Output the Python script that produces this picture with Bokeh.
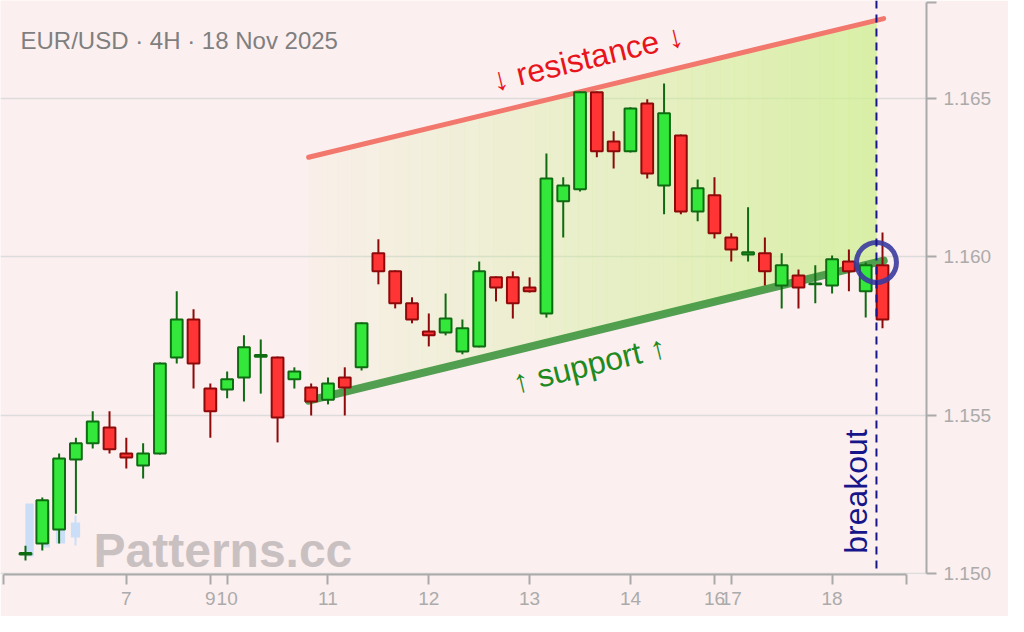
import numpy as np
from bokeh.core.properties import value
from bokeh.embed import file_html
from bokeh.models import ColumnDataSource, CustomJSTickFormatter, FixedTicker, Label, Range1d, Span
from bokeh.plotting import figure
from bokeh.resources import INLINE

FONT = "Liberation Sans"
BG = "#fcefef"
GREEN, GREEN_EDGE = "#33e83a", "#0f6b12"
RED, RED_EDGE = "#ff3535", "#8e0a0a"

# EUR/USD 4H candles, 6 Nov -> 18 Nov 2025 (x = candle number)
opens = [1.15060, 1.15095, 1.15139, 1.15360, 1.15411, 1.15461, 1.15379, 1.15341, 1.15379, 1.15682,
         1.15802, 1.15584, 1.15581, 1.15619, 1.15684, 1.15682, 1.15613, 1.15587, 1.15549, 1.15619,
         1.15651, 1.16011, 1.15954, 1.15853, 1.15764, 1.15761, 1.15701, 1.15717, 1.15935, 1.15935,
         1.15903, 1.15821, 1.16175, 1.16213, 1.16519, 1.16364, 1.16333, 1.16484, 1.16225, 1.16383,
         1.16143, 1.16194, 1.16061, 1.16007, 1.16011, 1.15909, 1.15941, 1.15913, 1.15909, 1.15985,
         1.15891, 1.15973]
highs = [1.15088, 1.15240, 1.15379, 1.15429, 1.15512, 1.15512, 1.15429, 1.15411, 1.15666, 1.15891,
         1.15834, 1.15600, 1.15638, 1.15752, 1.15739, 1.15685, 1.15651, 1.15600, 1.15619, 1.15651,
         1.15793, 1.16055, 1.15957, 1.15872, 1.15821, 1.15884, 1.15802, 1.15985, 1.15938, 1.15954,
         1.15935, 1.16326, 1.16251, 1.16522, 1.16522, 1.16396, 1.16472, 1.16497, 1.16547, 1.16386,
         1.16244, 1.16251, 1.16074, 1.16156, 1.16061, 1.16011, 1.15960, 1.15973, 1.16004, 1.16023,
         1.15982, 1.16077]
lows = [1.15041, 1.15073, 1.15095, 1.15189, 1.15395, 1.15379, 1.15332, 1.15300, 1.15376, 1.15663,
        1.15584, 1.15429, 1.15553, 1.15543, 1.15568, 1.15414, 1.15584, 1.15499, 1.15534, 1.15499,
        1.15641, 1.15913, 1.15837, 1.15790, 1.15717, 1.15752, 1.15692, 1.15714, 1.15859, 1.15805,
        1.15887, 1.15808, 1.16061, 1.16206, 1.16314, 1.16279, 1.16329, 1.16247, 1.16134, 1.16134,
        1.16112, 1.16058, 1.15985, 1.15985, 1.15909, 1.15837, 1.15837, 1.15853, 1.15884, 1.15891,
        1.15808, 1.15774]
closes = [1.15065, 1.15231, 1.15363, 1.15411, 1.15480, 1.15392, 1.15366, 1.15379, 1.15663, 1.15802,
          1.15663, 1.15512, 1.15613, 1.15714, 1.15690, 1.15493, 1.15638, 1.15543, 1.15600, 1.15587,
          1.15790, 1.15954, 1.15853, 1.15802, 1.15752, 1.15805, 1.15774, 1.15954, 1.15903, 1.15853,
          1.15891, 1.16247, 1.16225, 1.16519, 1.16333, 1.16333, 1.16468, 1.16263, 1.16453, 1.16143,
          1.16216, 1.16074, 1.16023, 1.16014, 1.15954, 1.15973, 1.15903, 1.15916, 1.15992, 1.15954,
          1.15973, 1.15802]

day_ticks = [6, 11, 12, 18, 24, 30, 36, 41, 42, 48]
day_labels = ["7", "9", "10", "11", "12", "13", "14", "16", "17", "18"]
price_ticks = [1.150, 1.155, 1.160, 1.165]

# channel lines (candle number, price)
channel_x = [16.85, 51.07]
support_y = [1.15546, 1.15988]
resistance_y = [1.16314, 1.16752]
breakout_x = 50.64
breakout_y = 1.15982

X_LO, X_HI = -1.4877, 53.618
Y_LO, Y_HI = 1.14997, 1.16809
AXIS_X_START, AXIS_X_END = -1.309, 52.43
AXIS_Y_END = 1.16803
FRAME_W, FRAME_H = 926, 574

p = figure(width=1008, height=616, x_range=Range1d(X_LO, X_HI), y_range=Range1d(Y_LO, Y_HI),
           y_axis_location="right", toolbar_location=None, output_backend="svg",
           min_border_left=0, min_border_top=0, min_border_right=1008 - FRAME_W,
           min_border_bottom=616 - FRAME_H,
           background_fill_color=BG, border_fill_color=BG, outline_line_color=None)

# axes
p.xaxis.ticker = FixedTicker(ticks=[AXIS_X_START] + day_ticks + [AXIS_X_END])
p.xaxis.formatter = CustomJSTickFormatter(
    args=dict(pos=day_ticks, names=day_labels),
    code="const i = pos.indexOf(tick); return i < 0 ? '' : names[i];")
p.xaxis.bounds = (AXIS_X_START, AXIS_X_END)
p.yaxis.ticker = FixedTicker(ticks=price_ticks + [AXIS_Y_END])
p.yaxis.formatter = CustomJSTickFormatter(code="return tick > 1.166 ? '' : tick.toFixed(3);")
p.yaxis.bounds = (1.150, AXIS_Y_END)
for ax in (p.xaxis, p.yaxis):
    ax.axis_line_color = "#aaaaaa"
    ax.axis_line_width = 2
    ax.major_tick_line_color = "#aaaaaa"
    ax.major_tick_line_width = 2
    ax.major_tick_out = 10
    ax.major_tick_in = 0
    ax.minor_tick_line_color = None
    ax.major_label_text_font = FONT
    ax.major_label_text_font_size = "19px"
    ax.major_label_text_color = "#ababab"
    ax.major_label_standoff = 7
p.xgrid.grid_line_color = None
p.ygrid.ticker = FixedTicker(ticks=price_ticks)
p.ygrid.grid_line_color = "#dcdcdc"
p.ygrid.grid_line_width = 1.5


def px_x(px):
    return X_LO + px / FRAME_W * (X_HI - X_LO)


def px_y(py):
    return Y_HI - py / FRAME_H * (Y_HI - Y_LO)


# watermark with its little candle icon
icon = dict(x=[px_x(29), px_x(46), px_x(60), px_x(75)], w=[0.5, 0.42, 0.55, 0.55],
            top=[px_y(503), px_y(510), px_y(515), px_y(522)],
            bottom=[px_y(556), px_y(547), px_y(543), px_y(537)])
p.vbar(x="x", width="w", top="top", bottom="bottom", source=ColumnDataSource(icon),
       fill_color="#cadff7", line_color=None)
p.segment([px_x(75)], [px_y(515)], [px_x(75)], [px_y(545)], line_color="#cadff7", line_width=2)
p.text([px_x(93)], [px_y(550)], text=["Patterns.cc"], text_font=value(FONT),
       text_font_size="48px", text_font_style="bold", text_color="#c9c1c1",
       text_baseline="alphabetic")

# channel fill, fading in from left to right
n = 40
edges = np.linspace(channel_x[0], breakout_x, n + 1)
xs, ys = [], []
for a, b in zip(edges[:-1], edges[1:]):
    xa, xb = a, b + 0.02
    top = np.interp([xa, xb], channel_x, resistance_y)
    bot = np.interp([xa, xb], channel_x, support_y)
    xs.append([xa, xb, xb, xa])
    ys.append([top[0], top[1], bot[1], bot[0]])
p.patches(xs, ys, fill_color="#cdef90", fill_alpha=list(np.linspace(0.06, 0.75, n)), line_color=None)

p.line(channel_x, resistance_y, line_color="#f2786e", line_width=5, line_cap="round")
p.line(channel_x, support_y, line_color="#3f963f", line_width=8, line_alpha=0.9, line_cap="round")

# candles
up = [c >= o for o, c in zip(opens, closes)]
src = ColumnDataSource(dict(
    x=list(range(len(opens))), high=highs, low=lows,
    lo=[min(o, c) for o, c in zip(opens, closes)],
    hi=[max(o, c) for o, c in zip(opens, closes)],
    fill=[GREEN if u else RED for u in up],
    edge=[GREEN_EDGE if u else RED_EDGE for u in up]))
p.segment("x", "high", "x", "low", source=src, line_color="edge", line_width=2)
p.vbar(x="x", width=0.7, bottom="lo", top="hi", source=src,
       fill_color="fill", line_color="edge", line_width=2)

# breakout marker
p.add_layout(Span(location=breakout_x, dimension="height", line_color="#16168a",
                  line_width=2, line_dash="8 6"))
p.scatter([breakout_x], [breakout_y], marker="circle", size=40, fill_color=None,
          line_color="#3a3a9e", line_width=5, line_alpha=0.9)

angle = 0.237
p.text([33.45], [1.16628], text=["↓ resistance ↓"], angle=angle, text_font=value(FONT),
       text_font_size="32px", text_color="#e8141c", text_align="center", text_baseline="middle")
p.text([33.55], [1.15660], text=["↑ support ↑"], angle=angle, text_font=value(FONT),
       text_font_size="32px", text_color="#1f8a1f", text_align="center", text_baseline="middle")
p.text([49.45], [1.15259], text=["breakout"], angle=np.pi / 2, text_font=value(FONT),
       text_font_size="32px", text_color="#16168a", text_align="center", text_baseline="middle")

p.add_layout(Label(x=px_x(20), y=px_y(40), text="EUR/USD · 4H · 18 Nov 2025",
                   text_font=FONT, text_font_size="24px", text_color="#7f7f7f",
                   text_baseline="alphabetic"))

open("out.html", "w").write(file_html(p, INLINE))
